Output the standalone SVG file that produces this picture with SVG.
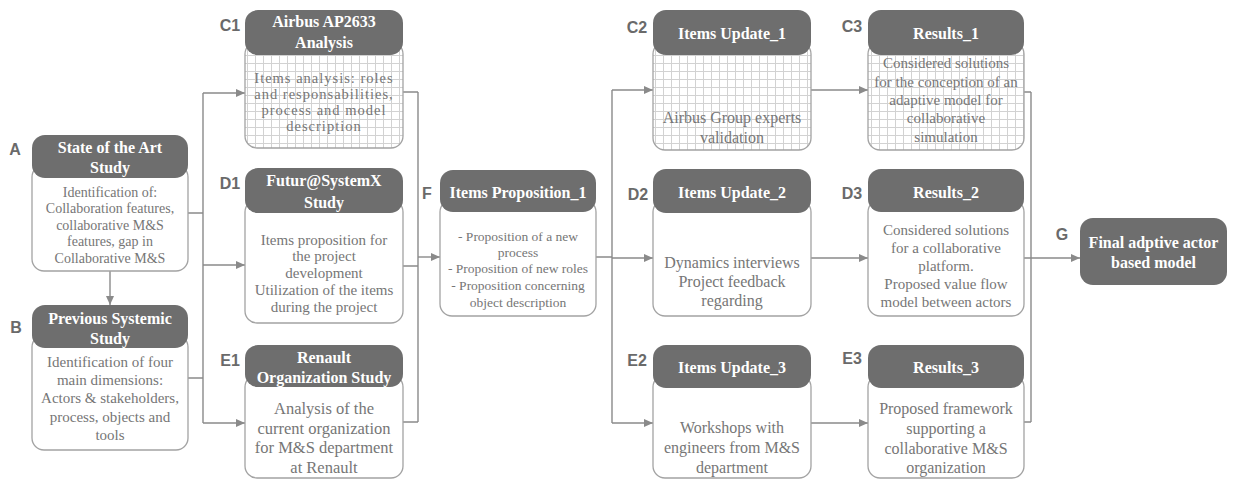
<svg xmlns="http://www.w3.org/2000/svg" width="1242" height="483" viewBox="0 0 1242 483">
<style>
.hd{fill:#6e6e6e;}
.bd{fill:#ffffff;stroke:#a3a3a3;stroke-width:1.3;}
.gd{fill:url(#grid);stroke:#a3a3a3;stroke-width:1.3;}
.ht{font-family:"Liberation Serif",serif;font-weight:bold;font-size:16px;fill:#ffffff;text-anchor:middle;dominant-baseline:central;}
.bt{font-family:"Liberation Serif",serif;font-size:15px;fill:#767676;text-anchor:middle;dominant-baseline:central;}
.lb{font-family:"Liberation Sans",sans-serif;font-weight:bold;font-size:16px;fill:#6a6a6a;text-anchor:middle;dominant-baseline:central;}
.cn{fill:none;stroke:#8a8a8a;stroke-width:1.4;}
.ar{fill:none;stroke:#8a8a8a;stroke-width:1.4;marker-end:url(#arr);}
</style>
<defs>
<pattern id="grid" width="8" height="8" patternUnits="userSpaceOnUse">
<rect width="8" height="8" fill="#ffffff"/>
<path d="M7.5 0V8M0 7.5H8" stroke="#d2d2d2" stroke-width="1" fill="none"/>
</pattern>
<marker id="arr" markerWidth="10" markerHeight="10" refX="9" refY="5" orient="auto" markerUnits="userSpaceOnUse">
<path d="M0 1 L9 5 L0 9 Z" fill="#8a8a8a"/>
</marker>
</defs>
<rect width="1242" height="483" fill="#ffffff"/>

<g id="connectors">
<path class="ar" d="M110 271 V305"/>
<path class="cn" d="M188 213 H203 M188 378 H203 M203 93 V423"/>
<path class="ar" d="M203 93 H245"/>
<path class="ar" d="M203 265 H245"/>
<path class="ar" d="M203 423 H245"/>
<path class="cn" d="M403 92 H418 M403 266 H418 M403 422 H418 M418 92 V422"/>
<path class="ar" d="M418 257 H440"/>
<path class="cn" d="M596 257 H612 M612 90 V423"/>
<path class="ar" d="M612 90 H653"/>
<path class="ar" d="M612 258 H653"/>
<path class="ar" d="M612 423 H653"/>
<path class="ar" d="M811 90 H868"/>
<path class="ar" d="M811 258 H868"/>
<path class="ar" d="M811 423 H868"/>
<path class="cn" d="M1024 92 H1031 M1024 422 H1031 M1031 92 V422"/>
<path class="ar" d="M1024 258 H1080"/>
</g>

<g id="labels">
<text class="lb" x="15" y="149">A</text>
<text class="lb" x="16" y="327">B</text>
<text class="lb" x="230" y="25">C1</text>
<text class="lb" x="230" y="183">D1</text>
<text class="lb" x="230" y="360">E1</text>
<text class="lb" x="427" y="193">F</text>
<text class="lb" x="637" y="27">C2</text>
<text class="lb" x="638" y="194">D2</text>
<text class="lb" x="637" y="360">E2</text>
<text class="lb" x="852" y="26">C3</text>
<text class="lb" x="852" y="193">D3</text>
<text class="lb" x="852" y="358">E3</text>
<text class="lb" x="1062" y="234">G</text>
</g>

<g id="nodeA">
<rect class="bd" x="32" y="165" width="156" height="106" rx="12"/>
<rect class="hd" x="32" y="135" width="156" height="43" rx="13"/>
<text class="ht" x="110" y="147">State of the Art</text>
<text class="ht" x="110" y="167">Study</text>
<text class="bt" style="font-size:14px" x="110" y="192">Identification of:</text>
<text class="bt" style="font-size:14px" x="110" y="208.5">Collaboration features,</text>
<text class="bt" style="font-size:14px" x="110" y="225">collaborative M&amp;S</text>
<text class="bt" style="font-size:14px" x="110" y="241.5">features, gap in</text>
<text class="bt" style="font-size:14px" x="110" y="258">Collaborative M&amp;S</text>
</g>

<g id="nodeB">
<rect class="bd" x="32" y="335" width="156" height="115" rx="12"/>
<rect class="hd" x="32" y="305" width="156" height="43" rx="13"/>
<text class="ht" x="110" y="318">Previous Systemic</text>
<text class="ht" x="110" y="338">Study</text>
<text class="bt" x="110" y="362">Identification of four</text>
<text class="bt" x="110" y="380">main dimensions:</text>
<text class="bt" x="110" y="398">Actors &amp; stakeholders,</text>
<text class="bt" x="110" y="417">process, objects and</text>
<text class="bt" x="110" y="435">tools</text>
</g>

<g id="nodeC1">
<rect class="gd" x="245" y="42" width="158" height="106" rx="12"/>
<rect class="hd" x="245" y="10" width="158" height="45" rx="13"/>
<text class="ht" x="324" y="21">Airbus AP2633</text>
<text class="ht" x="324" y="42">Analysis</text>
<text class="bt" style="letter-spacing:1px;font-size:14.5px" x="324" y="78">Items analysis: roles</text>
<text class="bt" style="letter-spacing:1px;font-size:14.5px" x="324" y="94">and responsabilities,</text>
<text class="bt" style="letter-spacing:1px;font-size:14.5px" x="324" y="110">process and model</text>
<text class="bt" style="letter-spacing:1px;font-size:14.5px" x="324" y="126">description</text>
</g>

<g id="nodeD1">
<rect class="bd" x="245" y="200" width="158" height="123" rx="12"/>
<rect class="hd" x="245" y="168" width="158" height="45" rx="13"/>
<text class="ht" x="324" y="180">Futur@SystemX</text>
<text class="ht" x="324" y="202">Study</text>
<text class="bt" x="324" y="240">Items proposition for</text>
<text class="bt" x="324" y="256">the project</text>
<text class="bt" x="324" y="273">development</text>
<text class="bt" x="324" y="290">Utilization of the items</text>
<text class="bt" x="324" y="307">during the project</text>
</g>

<g id="nodeE1">
<rect class="bd" x="245" y="375" width="158" height="103" rx="12"/>
<rect class="hd" x="245" y="345" width="158" height="42" rx="13"/>
<text class="ht" x="324" y="357">Renault</text>
<text class="ht" x="324" y="377">Organization Study</text>
<text class="bt" style="font-size:16.5px" x="324" y="408">Analysis of the</text>
<text class="bt" style="font-size:16.5px" x="324" y="428">current organization</text>
<text class="bt" style="font-size:16.5px" x="324" y="447">for M&amp;S department</text>
<text class="bt" style="font-size:16.5px" x="324" y="467">at Renault</text>
</g>

<g id="nodeF">
<rect class="bd" x="440" y="200" width="156" height="116" rx="12"/>
<rect class="hd" x="440" y="170" width="156" height="42" rx="13"/>
<text class="ht" x="518" y="192">Items Proposition_1</text>
<text class="bt" style="font-size:13.5px" x="518" y="236">- Proposition of a new</text>
<text class="bt" style="font-size:13.5px" x="518" y="252">process</text>
<text class="bt" style="font-size:13.5px" x="518" y="268.5">- Proposition of new roles</text>
<text class="bt" style="font-size:13.5px" x="518" y="285">- Proposition concerning</text>
<text class="bt" style="font-size:13.5px" x="518" y="302">object description</text>
</g>

<g id="nodeC2">
<rect class="gd" x="653" y="42" width="158" height="108" rx="12"/>
<rect class="hd" x="653" y="10" width="158" height="45" rx="13"/>
<text class="ht" x="732" y="33">Items Update_1</text>
<text class="bt" style="font-size:16px" x="732" y="117">Airbus Group experts</text>
<text class="bt" style="font-size:16px" x="732" y="137">validation</text>
</g>

<g id="nodeD2">
<rect class="bd" x="653" y="200" width="158" height="116" rx="12"/>
<rect class="hd" x="653" y="169" width="158" height="44" rx="13"/>
<text class="ht" x="732" y="192">Items Update_2</text>
<text class="bt" style="font-size:16px" x="732" y="262">Dynamics interviews</text>
<text class="bt" style="font-size:16px" x="732" y="281">Project feedback</text>
<text class="bt" style="font-size:16px" x="732" y="300">regarding</text>
</g>

<g id="nodeE2">
<rect class="bd" x="653" y="375" width="158" height="103" rx="12"/>
<rect class="hd" x="653" y="345" width="158" height="43" rx="13"/>
<text class="ht" x="732" y="367">Items Update_3</text>
<text class="bt" style="font-size:16px" x="732" y="427">Workshops with</text>
<text class="bt" style="font-size:16px" x="732" y="447">engineers from M&amp;S</text>
<text class="bt" style="font-size:16px" x="732" y="467">department</text>
</g>

<g id="nodeC3">
<rect class="gd" x="868" y="42" width="156" height="108" rx="12"/>
<rect class="hd" x="868" y="10" width="156" height="45" rx="13"/>
<text class="ht" x="946" y="33">Results_1</text>
<text class="bt" x="946" y="63">Considered solutions</text>
<text class="bt" x="946" y="82">for the conception of an</text>
<text class="bt" x="946" y="100">adaptive model for</text>
<text class="bt" x="946" y="118">collaborative</text>
<text class="bt" x="946" y="137">simulation</text>
</g>

<g id="nodeD3">
<rect class="bd" x="868" y="200" width="156" height="116" rx="12"/>
<rect class="hd" x="868" y="169" width="156" height="43" rx="13"/>
<text class="ht" x="946" y="192">Results_2</text>
<text class="bt" x="946" y="230">Considered solutions</text>
<text class="bt" x="946" y="248">for a collaborative</text>
<text class="bt" x="946" y="266">platform.</text>
<text class="bt" x="946" y="284">Proposed value flow</text>
<text class="bt" x="946" y="302">model between actors</text>
</g>

<g id="nodeE3">
<rect class="bd" x="868" y="375" width="156" height="103" rx="12"/>
<rect class="hd" x="868" y="345" width="156" height="43" rx="13"/>
<text class="ht" x="946" y="367">Results_3</text>
<text class="bt" style="font-size:16px" x="946" y="408">Proposed framework</text>
<text class="bt" style="font-size:16px" x="946" y="428">supporting a</text>
<text class="bt" style="font-size:16px" x="946" y="448">collaborative M&amp;S</text>
<text class="bt" style="font-size:16px" x="946" y="467">organization</text>
</g>

<g id="nodeG">
<rect class="hd" x="1080" y="218" width="147" height="67" rx="13"/>
<text class="ht" x="1153.5" y="242">Final adptive actor</text>
<text class="ht" x="1153.5" y="262">based model</text>
</g>
</svg>
